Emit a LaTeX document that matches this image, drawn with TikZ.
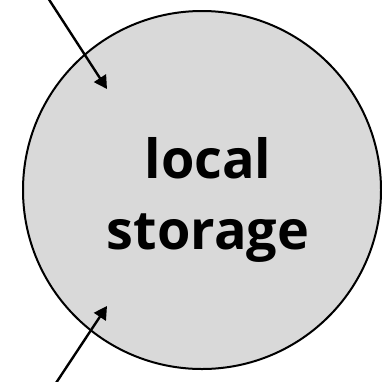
\documentclass[tikz,border=0pt]{standalone}
\usepackage{fontspec}
\setmainfont{Open Sans}
\usetikzlibrary{arrows.meta}
\begin{document}
\begin{tikzpicture}[x=1pt,y=-1pt]
        \useasboundingbox (0,0) rectangle (382,381);
        % the store itself
        \node[circle,draw,line width=2pt,fill=black!15,minimum size=358pt,inner sep=0pt] (store) at (202,190) {};
        \node[align=center,inner sep=0pt,font=\fontsize{54}{71}\selectfont\bfseries] (storeText) at (208,200) {local\\storage};
        % incoming and outgoing flows
        \coordinate (inA) at (48,-2);
        \coordinate (tipA) at (107,89);
        \coordinate (outB) at (56,383);
        \coordinate (tipB) at (107,306);
        \draw[line width=2.4pt,-{Triangle[length=13pt,width=14pt]}] (inA) -- (tipA);
        \draw[line width=2.4pt,-{Triangle[length=13pt,width=14pt]}] (outB) -- (tipB);
      \end{tikzpicture}
\end{document}
